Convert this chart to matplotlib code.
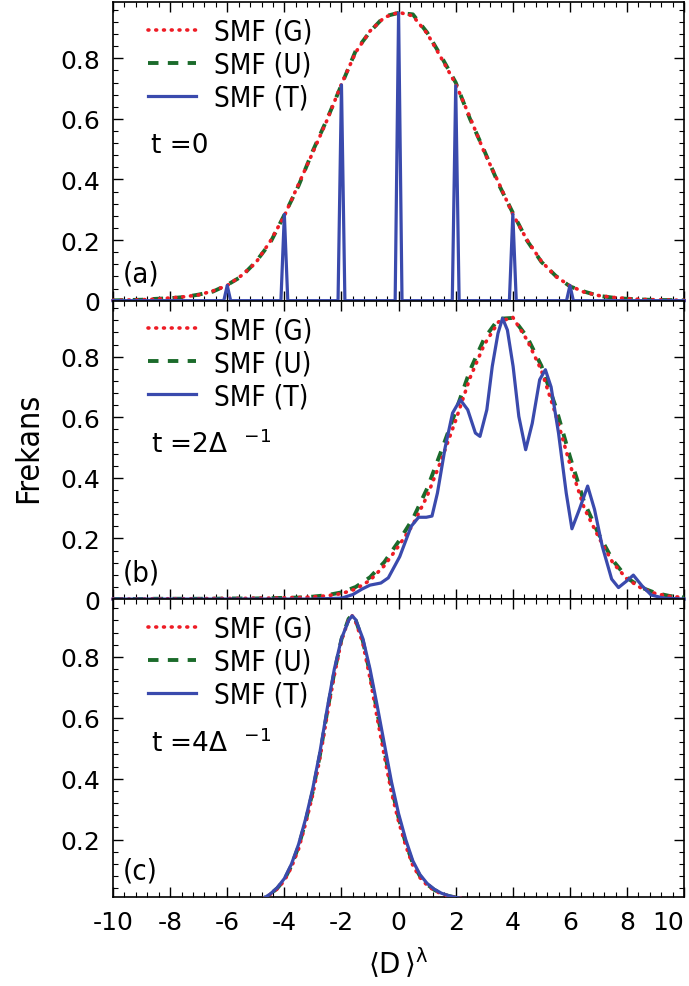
import matplotlib

matplotlib.use("Agg")
import matplotlib.pyplot as plt
from matplotlib import font_manager as fm
from matplotlib.ticker import AutoMinorLocator, FormatStrFormatter, MultipleLocator

plt.rcParams["font.family"] = ["DejaVu Sans"]
plt.rcParams["mathtext.fontset"] = "dejavusans"
plt.rcParams["axes.unicode_minus"] = False

# the legend / panel tags in the reference use a narrow face
_cond = fm.FontProperties(family="DejaVu Sans", stretch="condensed")
if "Condensed" in fm.findfont(_cond):
    NARROW = dict(family="DejaVu Sans", stretch="condensed")
    LEG_SIZE, TAG_SIZE, YLAB_SIZE = 20, 21, 23
else:
    NARROW = dict(family=["Lato", "DejaVu Sans"])
    LEG_SIZE, TAG_SIZE, YLAB_SIZE = 20, 20, 25

# ---- data ----
grid_x = [-10.0, -9.5, -9.0, -8.5, -8.0, -7.5, -7.0, -6.5, -6.0, -5.5, -5.0,
          -4.5, -4.0, -3.5, -3.0, -2.5, -2.0, -1.5, -1.0, -0.5, 0.0, 0.5,
          1.0, 1.5, 2.0, 2.5, 3.0, 3.5, 4.0, 4.5, 5.0, 5.5, 6.0, 6.5, 7.0,
          7.5, 8.0, 8.5, 9.0, 9.5, 10.0]

# (a) t = 0
a_g = [0.001, 0.002, 0.003, 0.005, 0.009, 0.013, 0.019, 0.032, 0.050, 0.083,
       0.125, 0.195, 0.280, 0.385, 0.490, 0.597, 0.715, 0.820, 0.890, 0.935,
       0.952, 0.940, 0.882, 0.800, 0.715, 0.605, 0.490, 0.390, 0.285, 0.200,
       0.130, 0.080, 0.049, 0.028, 0.017, 0.011, 0.007, 0.004, 0.003, 0.002,
       0.001]
a_u = [0.001, 0.002, 0.003, 0.006, 0.008, 0.012, 0.020, 0.030, 0.052, 0.080,
       0.128, 0.190, 0.283, 0.380, 0.495, 0.600, 0.712, 0.825, 0.888, 0.938,
       0.950, 0.945, 0.885, 0.805, 0.720, 0.600, 0.495, 0.385, 0.290, 0.198,
       0.128, 0.082, 0.047, 0.030, 0.016, 0.010, 0.006, 0.004, 0.002, 0.002,
       0.001]
a_t_x = [-10, -6.12, -6, -5.88, -4.12, -4, -3.88, -2.12, -2, -1.88, -0.12, 0,
         0.12, 1.88, 2, 2.12, 3.88, 4, 4.12, 5.88, 6, 6.12, 10]
a_t = [0, 0, 0.05, 0, 0, 0.285, 0, 0, 0.712, 0, 0, 0.95, 0, 0, 0.709, 0, 0,
       0.285, 0, 0, 0.05, 0, 0]

# (b) t = 2/Delta
b_g = [0.0, 0.0, 0.0, 0.001, 0.001, 0.001, 0.001, 0.002, 0.002, 0.002, 0.003,
       0.003, 0.004, 0.005, 0.007, 0.011, 0.018, 0.033, 0.062, 0.110, 0.175,
       0.245, 0.340, 0.460, 0.590, 0.730, 0.840, 0.915, 0.930, 0.855, 0.755,
       0.610, 0.445, 0.300, 0.205, 0.120, 0.066, 0.036, 0.018, 0.009, 0.005]
b_u = [0.0, 0.0, 0.0, 0.001, 0.001, 0.001, 0.001, 0.001, 0.002, 0.002, 0.002,
       0.003, 0.004, 0.005, 0.008, 0.013, 0.022, 0.040, 0.072, 0.122, 0.190,
       0.265, 0.365, 0.490, 0.620, 0.755, 0.860, 0.925, 0.928, 0.865, 0.770,
       0.635, 0.470, 0.320, 0.215, 0.128, 0.070, 0.038, 0.020, 0.010, 0.005]
b_t_x = [-10, -3, -2, -1.6, -1.28, -1.0, -0.62, -0.36, 0.04, 0.44, 0.7, 0.97,
         1.17, 1.36, 1.63, 1.89, 2.16, 2.42, 2.69, 2.85, 3.09, 3.28, 3.48,
         3.64, 3.81, 4.01, 4.21, 4.45, 4.68, 4.94, 5.14, 5.34, 5.6, 5.87,
         6.07, 6.33, 6.62, 6.86, 7.13, 7.46, 7.7, 7.99, 8.22, 8.52, 8.85, 9.3,
         10]
b_t = [0, 0, 0.003, 0.015, 0.033, 0.046, 0.053, 0.070, 0.140, 0.240, 0.270,
       0.270, 0.274, 0.350, 0.500, 0.614, 0.658, 0.625, 0.548, 0.537, 0.625,
       0.768, 0.877, 0.927, 0.888, 0.768, 0.603, 0.493, 0.580, 0.724, 0.757,
       0.700, 0.548, 0.350, 0.232, 0.296, 0.373, 0.296, 0.175, 0.066, 0.038,
       0.060, 0.079, 0.044, 0.013, 0.003, 0]

# (c) t = 4/Delta
c_x = [-5, -4.75, -4.5, -4.25, -4, -3.75, -3.5, -3.25, -3, -2.75, -2.5, -2.25,
       -2, -1.75, -1.625, -1.5, -1.25, -1, -0.75, -0.5, -0.25, 0, 0.25, 0.5,
       0.75, 1, 1.25, 1.5, 1.75, 2, 2.25, 2.5]
c_g = [0.002, 0.006, 0.020, 0.038, 0.065, 0.110, 0.170, 0.255, 0.350, 0.470,
       0.610, 0.740, 0.855, 0.922, 0.935, 0.915, 0.844, 0.730, 0.600, 0.475,
       0.355, 0.260, 0.180, 0.115, 0.075, 0.050, 0.033, 0.022, 0.015, 0.010,
       0.006, 0.003]
c_u = [0.002, 0.006, 0.020, 0.040, 0.068, 0.115, 0.178, 0.262, 0.360, 0.480,
       0.620, 0.750, 0.858, 0.925, 0.938, 0.920, 0.852, 0.745, 0.620, 0.495,
       0.372, 0.272, 0.188, 0.122, 0.080, 0.053, 0.035, 0.023, 0.015, 0.010,
       0.006, 0.003]
c_t = [0.002, 0.006, 0.021, 0.042, 0.072, 0.120, 0.185, 0.270, 0.370, 0.490,
       0.630, 0.760, 0.860, 0.920, 0.935, 0.922, 0.860, 0.760, 0.640, 0.515,
       0.390, 0.285, 0.200, 0.130, 0.085, 0.056, 0.037, 0.024, 0.016, 0.010,
       0.006, 0.003]

labels = ["SMF (G)", "SMF (U)", "SMF (T)"]
time_texts = ["t =0", "t =2\u0394  $^{-1}$", "t =4\u0394  $^{-1}$"]
panel_tags = ["(a)", "(b)", "(c)"]

RED = "#ee1c25"
GREEN = "#1b6b2b"
BLUE = "#3a4aad"

panels = [
    (grid_x, a_g, grid_x, a_u, a_t_x, a_t, (0.0, 0.985)),
    (grid_x, b_g, grid_x, b_u, b_t_x, b_t, (0.0, 0.985)),
    (c_x, c_g, c_x, c_u, c_x, c_t, (0.01, 0.99)),
]

fig, axes = plt.subplots(3, 1, figsize=(6.89, 9.87), dpi=100, sharex=True)
fig.subplots_adjust(left=0.164, right=0.993, top=0.9967, bottom=0.0897, hspace=0)

for i, (ax, (gx, gy, ux, uy, tx, ty, ylim)) in enumerate(zip(axes, panels)):
    clip = i == 2
    ax.plot(gx, gy, color=RED, lw=2.6, dashes=(0.25, 1.9), dash_capstyle="round",
            label=labels[0], zorder=3.2, clip_on=clip)
    ax.plot(ux, uy, color=GREEN, lw=2.8, dashes=(2.7, 2.4), label=labels[1],
            zorder=3.1, clip_on=clip)
    ax.plot(tx, ty, color=BLUE, lw=2.3, label=labels[2], zorder=3.3,
            clip_on=clip)

    ax.set_xlim(-10, 10)
    ax.set_ylim(*ylim)
    ax.xaxis.set_major_locator(MultipleLocator(2))
    ax.xaxis.set_minor_locator(AutoMinorLocator(5))
    ax.yaxis.set_major_locator(MultipleLocator(0.2))
    ax.yaxis.set_minor_locator(AutoMinorLocator(5))
    ax.xaxis.set_major_formatter(FormatStrFormatter("%g"))
    ax.yaxis.set_major_formatter(FormatStrFormatter("%g"))
    ax.tick_params(which="both", direction="in", top=True, right=True,
                   labelsize=18, pad=9)
    ax.tick_params(which="major", length=7.5, width=1)
    ax.tick_params(which="minor", length=3.8, width=0.8)
    for sp in ax.spines.values():
        sp.set_linewidth(1.2)

    ax.legend(loc="upper left", bbox_to_anchor=(0.034, 1.0), borderaxespad=0,
              borderpad=0.56, frameon=False, handlelength=1.73,
              handletextpad=0.64, labelspacing=0.18,
              prop=dict(size=LEG_SIZE, **NARROW))
    ax.text(0.066, 0.52, time_texts[i], transform=ax.transAxes, fontsize=19,
            va="center", ha="left")
    ax.text(0.017, 0.09, panel_tags[i], transform=ax.transAxes,
            fontsize=TAG_SIZE, va="center", ha="left", **NARROW)

# keep the last x label inside the figure, as in the reference
fig.canvas.draw()
for tick in axes[2].xaxis.get_major_ticks():
    if abs(tick.get_loc() - 10) < 1e-6:
        tick.label1.set_horizontalalignment("right")

fig.text(0.041, 0.546, "Frekans", rotation=90, va="center", ha="center",
         fontsize=YLAB_SIZE, **NARROW)
fig.text(398.5 / 689, 1 - 963 / 987, r"$\langle \mathrm{D}\,\rangle^{\mathrm{\lambda}}$",
         ha="center", va="center", fontsize=20)

fig.savefig("out.png", dpi=100)
